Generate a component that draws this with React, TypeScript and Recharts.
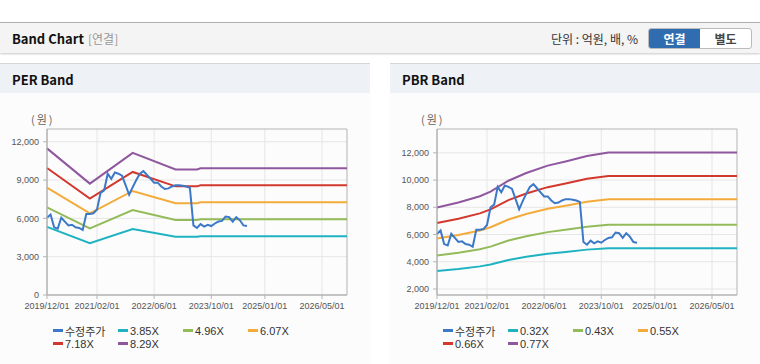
import { LineChart, Line, XAxis, YAxis, CartesianGrid, ReferenceArea } from "recharts"

// x axis runs in months counted from 2019/12
const monthTicks = [0, 14, 30, 46, 61, 77]
const monthLabels = ["2019/12/01", "2021/02/01", "2022/06/01", "2023/10/01", "2025/01/01", "2026/05/01"]
const lastMonth = 84

// 수정주가, one value per month from 2019/12
const price = [
  6050, 6300, 5300, 5200, 6050, 5750, 5450, 5500, 5300, 5250,
  5100, 6350, 6350, 6400, 6700, 8000, 8200, 9500, 9100, 9600,
  9500, 9350, 8600, 7850, 8450, 9000, 9500, 9700, 9400, 9100,
  8800, 8800, 8500, 8300, 8350, 8500, 8600, 8600, 8550, 8500,
  8400, 5450, 5250, 5550, 5350, 5500, 5400, 5600, 5750, 5800,
  6150, 6100, 5750, 6100, 5850, 5450, 5400,
]

// PER band
const perNames = ["3.85X", "4.96X", "6.07X", "7.18X", "8.29X"]
const perMonths = [0, 12, 24, 36, 42, 43, 84]
const per385 = [5332, 4050, 5167, 4562, 4562, 4608, 4608]
const per496 = [6870, 5218, 6656, 5878, 5878, 5937, 5937]
const per607 = [8407, 6386, 8146, 7193, 7193, 7266, 7266]
const per718 = [9944, 7553, 9636, 8508, 8508, 8594, 8594]
const per829 = [11482, 8721, 11125, 9824, 9824, 9923, 9923]
const perTicks = [0, 3000, 6000, 9000, 12000]

// PBR band
const pbrNames = ["0.32X", "0.43X", "0.55X", "0.66X", "0.77X"]
const pbrMonths = [0, 6, 12, 15, 20, 25, 31, 36, 42, 48, 84]
const pbr032 = [3318, 3470, 3662, 3803, 4135, 4370, 4596, 4724, 4892, 4997, 4997]
const pbr043 = [4459, 4663, 4921, 5110, 5556, 5873, 6177, 6348, 6573, 6715, 6715]
const pbr055 = [5704, 5964, 6295, 6536, 7107, 7511, 7900, 8119, 8407, 8589, 8589]
const pbr066 = [6844, 7157, 7554, 7843, 8529, 9014, 9480, 9743, 10089, 10307, 10307]
const pbr077 = [7985, 8350, 8813, 9150, 9950, 10516, 11060, 11367, 11770, 12024, 12024]
const pbrTicks = [2000, 4000, 6000, 8000, 10000, 12000]

const priceColor = "#3b78c8"
const bandColors = ["#1fb3c2", "#93bb5a", "#f3ab3c", "#d2382e", "#8f579e"]

const font = "'Noto Sans CJK KR', 'Noto Sans', sans-serif"
const tickFont = "'Liberation Sans', Arial, sans-serif"

function buildRows(months: number[], bands: number[][]) {
  const rows = []
  for (let m = 0; m <= lastMonth; m++) {
    const row: Record<string, number | null> = { m, price: m < price.length ? price[m] : null }
    const idx = months.indexOf(m)
    bands.forEach((b, i) => {
      row["b" + i] = idx >= 0 ? b[idx] : null
    })
    rows.push(row)
  }
  return rows
}

function BandPanel({
  left, title, names, rows, domain, ticks,
}: {
  left: number
  title: string
  names: string[]
  rows: Record<string, number | null>[]
  domain: [number, number]
  ticks: number[]
}) {
  const legendItems = [{ name: "수정주가", color: priceColor }, ...names.map((n, i) => ({ name: n, color: bandColors[i] }))]
  return (
    <div style={{ position: "absolute", left, top: 63, width: 370, height: 300, background: "#fcfcfc", borderTop: "1px solid #d6d6d6", borderBottom: "1px solid #dcdcdc" }}>
      <div style={{ height: 29, background: "#eef2f7", fontFamily: font, fontWeight: 700, fontSize: 13, color: "#111", lineHeight: "31px", paddingLeft: 12 }}>
        {title}
      </div>
      <div style={{ position: "absolute", left: 31, top: 47, fontFamily: font, fontSize: 11, color: "#666", letterSpacing: 2 }}>(원)</div>
      <div style={{ position: "absolute", left: 0, top: 36 }}>
        <LineChart width={370} height={230} data={rows} margin={{ top: 29, right: 23, bottom: 5, left: 0 }}>
          <CartesianGrid stroke="#e6e6e6" horizontalValues={ticks} verticalValues={monthTicks} />
          <ReferenceArea x1={0} x2={lastMonth} y1={domain[0]} y2={domain[1]} fill="none" stroke="#b4b4b4" ifOverflow="visible" />
          <XAxis
            dataKey="m" type="number" domain={[0, lastMonth]} ticks={monthTicks}
            tickFormatter={(v: number) => monthLabels[monthTicks.indexOf(v)]}
            height={30} tickSize={4} tickMargin={4} interval={0}
            stroke="#b4b4b4" tick={{ fontSize: 9, fill: "#555", fontFamily: tickFont }}
          />
          <YAxis
            type="number" domain={domain} ticks={ticks} allowDataOverflow width={47}
            tickSize={4} tickMargin={4} stroke="#b4b4b4"
            tickFormatter={(v: number) => v.toLocaleString("en-US")}
            tick={{ fontSize: 9, fill: "#555", fontFamily: tickFont }}
          />
          {names.map((n, i) => (
            <Line key={n} dataKey={"b" + i} stroke={bandColors[i]} strokeWidth={2} dot={false} connectNulls isAnimationActive={false} />
          ))}
          <Line dataKey="price" stroke={priceColor} strokeWidth={2} dot={false} isAnimationActive={false} />
        </LineChart>
      </div>
      <div style={{ position: "absolute", left: 53, top: 260, width: 280, display: "flex", flexWrap: "wrap", fontFamily: font, fontSize: 11, color: "#333" }}>
        {legendItems.map((it) => (
          <div key={it.name} style={{ width: 65, height: 13, display: "flex", alignItems: "center", whiteSpace: "nowrap", lineHeight: "12px" }}>
            <span style={{ display: "inline-block", width: 10, height: 3, background: it.color, marginRight: 2 }} />
            <span style={{ fontFamily: it.name === "수정주가" ? font : tickFont, fontSize: 11, lineHeight: "12px" }}>{it.name}</span>
          </div>
        ))}
      </div>
    </div>
  )
}

export default function App() {
  const perRows = buildRows(perMonths, [per385, per496, per607, per718, per829])
  const pbrRows = buildRows(pbrMonths, [pbr032, pbr043, pbr055, pbr066, pbr077])
  return (
    <div style={{ position: "absolute", left: 0, top: 0, width: 760, height: 364, background: "#fff", overflow: "hidden", fontFamily: font }}>
      <div style={{ position: "absolute", left: 0, top: 22, width: 760, height: 30, background: "#f4f4f4", borderTop: "1px solid #b0b0b0", boxShadow: "0 1px 2px #c8c8c8" }}>
        <span style={{ position: "absolute", left: 12, top: 6, fontSize: 13, fontWeight: 700, color: "#111" }}>Band Chart</span>
        <span style={{ position: "absolute", left: 88, top: 7, fontSize: 12, color: "#999" }}>[연결]</span>
        <span style={{ position: "absolute", left: 551, top: 7, fontSize: 12, color: "#333" }}>단위 : 억원, 배, %</span>
        <div style={{ position: "absolute", left: 648, top: 5, width: 102, height: 19, display: "flex", border: "1px solid #bbb", borderRadius: 3, overflow: "hidden", background: "#fff" }}>
          <div style={{ width: 51, background: "#2f6db0", color: "#fff", fontSize: 12, fontWeight: 700, textAlign: "center", lineHeight: "19px" }}>연결</div>
          <div style={{ flex: 1, color: "#444", fontSize: 12, fontWeight: 700, textAlign: "center", lineHeight: "19px" }}>별도</div>
        </div>
      </div>
      <BandPanel left={0} title="PER Band" names={perNames} rows={perRows} domain={[0, 13000]} ticks={perTicks} />
      <BandPanel left={390} title="PBR Band" names={pbrNames} rows={pbrRows} domain={[1560, 13750]} ticks={pbrTicks} />
    </div>
  )
}
